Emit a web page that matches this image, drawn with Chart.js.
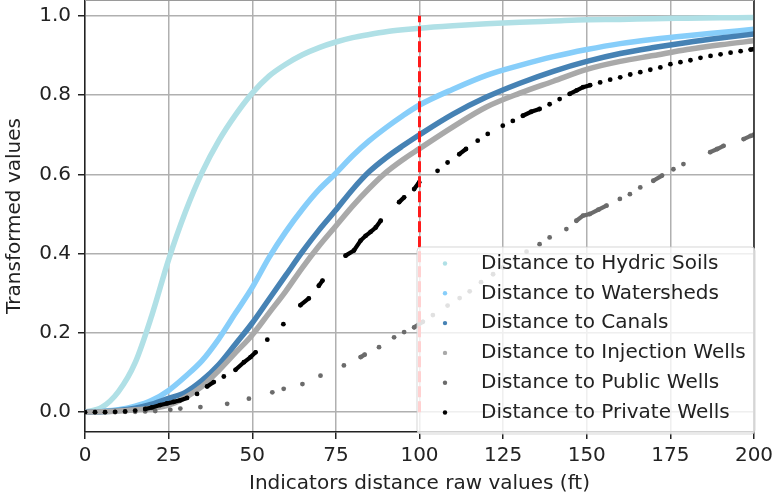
<!DOCTYPE html>
<html>
<head>
<meta charset="utf-8">
<script src="https://cdn.jsdelivr.net/npm/chart.js@4.4.1/dist/chart.umd.min.js"></script>
<style>
  html, body { margin: 0; padding: 0; background: #fff; }
  #wrap { width: 772px; height: 502px; }
</style>
</head>
<body>
<div id="wrap"><canvas id="chart" width="772" height="502"></canvas></div>
<script>
// legend labels, in plotting order
const seriesNames = [
  "Distance to Hydric Soils",
  "Distance to Watersheds",
  "Distance to Canals",
  "Distance to Injection Wells",
  "Distance to Public Wells",
  "Distance to Private Wells",
];
const seriesColors = ["#b0e0e6", "#87cefa", "#4682b4", "#a9a9a9", "#6b6b6b", "#000000"];

// dense curves, sampled along the raw distance (ft)
const curveX = [0, 5, 10, 15, 20, 25, 30, 35, 40, 45, 50, 55, 60, 65, 70, 75, 80, 85, 90, 95, 100,
  110, 120, 130, 140, 150, 160, 170, 180, 190, 200];
const hydricY = [0, 0.012, 0.052, 0.125, 0.245, 0.385, 0.505, 0.605, 0.685, 0.75, 0.805, 0.848, 0.878,
  0.902, 0.92, 0.934, 0.945, 0.953, 0.96, 0.965, 0.969, 0.975, 0.98, 0.984, 0.987, 0.99, 0.991,
  0.993, 0.994, 0.995, 0.996];
const watershedY = [0, 0.002, 0.006, 0.015, 0.03, 0.055, 0.09, 0.13, 0.185, 0.25, 0.315, 0.39, 0.455,
  0.512, 0.562, 0.603, 0.647, 0.685, 0.718, 0.748, 0.775, 0.815, 0.85, 0.875, 0.897, 0.915, 0.93,
  0.941, 0.95, 0.958, 0.966];
const canalY = [0, 0.001, 0.004, 0.01, 0.02, 0.035, 0.05, 0.08, 0.12, 0.172, 0.225, 0.285, 0.345,
  0.405, 0.46, 0.51, 0.562, 0.607, 0.642, 0.672, 0.7, 0.752, 0.795, 0.83, 0.86, 0.885, 0.905, 0.92,
  0.933, 0.944, 0.954];
const injectionY = [0, 0.001, 0.003, 0.006, 0.01, 0.018, 0.037, 0.065, 0.105, 0.15, 0.195, 0.25, 0.305,
  0.365, 0.42, 0.47, 0.52, 0.565, 0.605, 0.637, 0.665, 0.72, 0.77, 0.805, 0.835, 0.865, 0.885, 0.9,
  0.915, 0.927, 0.937];

// sparse series, read dot by dot
const publicX = [0, 3, 6, 9, 12, 15, 18, 21, 25.5, 28.5, 34.5, 42.5, 49, 56, 59.4, 65, 70.4, 77.4,
  82.4, 83.6, 87.9, 92.4, 95.4, 98.4, 101, 104, 108.4, 112, 115, 118.4, 122, 125, 128.4, 132, 135.9,
  138.9, 143.9, 146.9, 148.9, 150.9, 153.5, 155.9, 159.9, 162.9, 166, 169.9, 172.5, 175.9, 178.9,
  186.9, 189, 190.9, 196.9, 199, 200];
const publicY = [0, 0, 0, 0, 0.001, 0.001, 0.002, 0.003, 0.006, 0.009, 0.013, 0.021, 0.034, 0.05,
  0.059, 0.071, 0.092, 0.118, 0.139, 0.145, 0.164, 0.189, 0.202, 0.214, 0.228, 0.245, 0.269, 0.288,
  0.305, 0.328, 0.348, 0.365, 0.387, 0.405, 0.424, 0.441, 0.462, 0.483, 0.496, 0.5, 0.511, 0.521,
  0.538, 0.55, 0.567, 0.584, 0.597, 0.613, 0.626, 0.656, 0.664, 0.672, 0.689, 0.697, 0.7];

const privateX = [0, 3, 6, 9, 12, 15, 18, 20, 22.5, 24.5, 26.5, 28.5, 30.5, 33.5, 36.5, 38.5, 41.5,
  45, 47.5, 49.5, 51, 54.5, 59.3, 64.4, 66.9, 69.9, 71, 77.9, 80.4, 82.4, 83.9, 85.4, 86.9, 88.4,
  93.9, 95.4, 98.4, 99.9, 105.4, 108.4, 111.9, 113.9, 117.4, 120.4, 124.9, 127.9, 130.9, 133.4,
  135.9, 138.9, 141.9, 144.9, 147, 148.9, 151, 154, 157, 160, 163, 166, 169, 172, 175, 178, 181,
  184, 187, 190, 193, 196, 199, 200];
const privateY = [0, 0, 0, 0.001, 0.002, 0.004, 0.008, 0.012, 0.018, 0.022, 0.026, 0.03, 0.036,
  0.046, 0.065, 0.076, 0.09, 0.107, 0.126, 0.139, 0.151, 0.183, 0.222, 0.27, 0.287, 0.319, 0.332,
  0.395, 0.408, 0.433, 0.445, 0.455, 0.466, 0.483, 0.53, 0.542, 0.563, 0.58, 0.609, 0.63, 0.651,
  0.664, 0.685, 0.702, 0.723, 0.735, 0.748, 0.758, 0.765, 0.777, 0.79, 0.803, 0.812, 0.82, 0.825,
  0.832, 0.839, 0.845, 0.852, 0.858, 0.864, 0.87, 0.878, 0.883, 0.888, 0.894, 0.899, 0.903, 0.907,
  0.911, 0.915, 0.916];

const cutoffX = 100;
const cutoffY = [0, 1];
const xTicks = [0, 25, 50, 75, 100, 125, 150, 175, 200];
const yTicks = [0, 0.2, 0.4, 0.6, 0.8, 1.0];

const FONT = "'DejaVu Sans', 'Liberation Sans', sans-serif";
const FONT_SIZE = 20;
const TEXT = "#222";

function toPoints(xs, ys) {
  return xs.map((x, i) => ({ x: x, y: ys[i] }));
}

/** 촘촘한 곡선: 굵은 선으로 점 띠를 흉내 */
function curveSet(idx, ys) {
  return {
    type: "line",
    label: seriesNames[idx],
    data: toPoints(curveX, ys),
    borderColor: seriesColors[idx],
    backgroundColor: seriesColors[idx],
    borderWidth: 5.5,
    borderCapStyle: "round",
    pointRadius: 0,
    cubicInterpolationMode: "monotone",
    order: 10 - idx,
  };
}

/** 드문 점 계열: 가까운 점끼리만 이어 붙임 */
function dotSet(idx, xs, ys) {
  const c = seriesColors[idx];
  return {
    type: "line",
    label: seriesNames[idx],
    data: toPoints(xs, ys),
    borderColor: c,
    backgroundColor: c,
    borderWidth: 4.2,
    borderCapStyle: "round",
    pointRadius: 2.4,
    pointBorderWidth: 0,
    tension: 0,
    segment: {
      borderColor: (s) => (s.p1.parsed.x - s.p0.parsed.x > 2.7 ? "rgba(0,0,0,0)" : c),
    },
    order: 10 - idx,
  };
}

const datasets = [
  curveSet(0, hydricY),
  curveSet(1, watershedY),
  curveSet(2, canalY),
  curveSet(3, injectionY),
  dotSet(4, publicX, publicY),
  dotSet(5, privateX, privateY),
  {
    type: "line",
    label: "cutoff",
    data: cutoffY.map((y) => ({ x: cutoffX, y: y })),
    borderColor: "#ff1a1a",
    borderWidth: 3,
    borderDash: [11, 4],
    pointRadius: 0,
    order: 0,
  },
];

const framePlugin = {
  id: "frame",
  afterDatasetsDraw(chart) {
    const { ctx, chartArea: a } = chart;
    ctx.save();
    ctx.strokeStyle = TEXT;
    ctx.lineWidth = 1.5;
    ctx.beginPath();
    ctx.moveTo(a.right, a.top);
    ctx.lineTo(a.right, a.bottom + 0.75);
    ctx.stroke();
    ctx.strokeStyle = "#9a9a9a";
    ctx.lineWidth = 1;
    ctx.beginPath();
    ctx.moveTo(a.left, a.top + 0.5);
    ctx.lineTo(a.right, a.top + 0.5);
    ctx.stroke();
    ctx.restore();
  },
  afterDraw(chart) {
    // 범례: 오른쪽 아래, 반투명 흰 박스
    const ctx = chart.ctx;
    const bx = 417, by = 247, bw = 338, bh = 187, r = 4;
    ctx.save();
    ctx.beginPath();
    ctx.moveTo(bx + r, by);
    ctx.lineTo(bx + bw - r, by);
    ctx.quadraticCurveTo(bx + bw, by, bx + bw, by + r);
    ctx.lineTo(bx + bw, by + bh - r);
    ctx.quadraticCurveTo(bx + bw, by + bh, bx + bw - r, by + bh);
    ctx.lineTo(bx + r, by + bh);
    ctx.quadraticCurveTo(bx, by + bh, bx, by + bh - r);
    ctx.lineTo(bx, by + r);
    ctx.quadraticCurveTo(bx, by, bx + r, by);
    ctx.closePath();
    ctx.fillStyle = "rgba(255,255,255,0.8)";
    ctx.fill();
    ctx.strokeStyle = "rgba(204,204,204,0.8)";
    ctx.lineWidth = 1;
    ctx.stroke();

    ctx.font = FONT_SIZE + "px " + FONT;
    ctx.textBaseline = "middle";
    ctx.textAlign = "left";
    seriesNames.forEach((name, i) => {
      const cy = 263.5 + i * 29.8;
      ctx.fillStyle = seriesColors[i];
      ctx.beginPath();
      ctx.arc(445, cy, 2.2, 0, Math.PI * 2);
      ctx.fill();
      ctx.fillStyle = TEXT;
      ctx.fillText(name, 481, cy);
    });
    ctx.restore();
  },
};

const ctx = document.getElementById("chart").getContext("2d");
new Chart(ctx, {
  type: "line",
  data: { datasets },
  plugins: [framePlugin],
  options: {
    responsive: false,
    animation: false,
    layout: { padding: { left: 0, right: 18, top: 0, bottom: 0 }, autoPadding: false },
    plugins: {
      legend: { display: false },
      tooltip: { enabled: false },
    },
    scales: {
      x: {
        type: "linear",
        min: 0,
        max: 200,
        afterBuildTicks: (s) => { s.ticks = xTicks.map((v) => ({ value: v })); },
        afterFit: (s) => {
          s.height = 70;
          s.paddingLeft = 0;
          s.paddingRight = 0;
        },
        ticks: {
          font: { family: FONT, size: FONT_SIZE },
          color: TEXT,
          padding: 5,
          maxRotation: 0,
          autoSkip: false,
          callback: (v) => String(v),
        },
        grid: { color: "#b0b0b0", lineWidth: 1.5, tickColor: TEXT, tickLength: 7, tickWidth: 1.5 },
        border: { color: TEXT, width: 1.5 },
        title: {
          display: true,
          text: "Indicators distance raw values (ft)",
          font: { family: FONT, size: FONT_SIZE },
          color: TEXT,
          padding: { top: 0, bottom: 6 },
        },
      },
      y: {
        type: "linear",
        min: -0.05,
        max: 1.04,
        afterBuildTicks: (s) => { s.ticks = yTicks.map((v) => ({ value: v })); },
        afterFit: (s) => {
          s.width = 85;
          s.paddingTop = 0;
          s.paddingBottom = 0;
        },
        ticks: {
          font: { family: FONT, size: FONT_SIZE },
          color: TEXT,
          padding: 7,
          autoSkip: false,
          callback: (v) => Number(v).toFixed(1),
        },
        grid: { color: "#b0b0b0", lineWidth: 1.5, tickColor: TEXT, tickLength: 7, tickWidth: 1.5 },
        border: { color: TEXT, width: 1.5 },
        title: {
          display: true,
          text: "Transformed values",
          font: { family: FONT, size: FONT_SIZE },
          color: TEXT,
          padding: { top: 3, bottom: 0 },
        },
      },
    },
  },
});
</script>
</body>
</html>
